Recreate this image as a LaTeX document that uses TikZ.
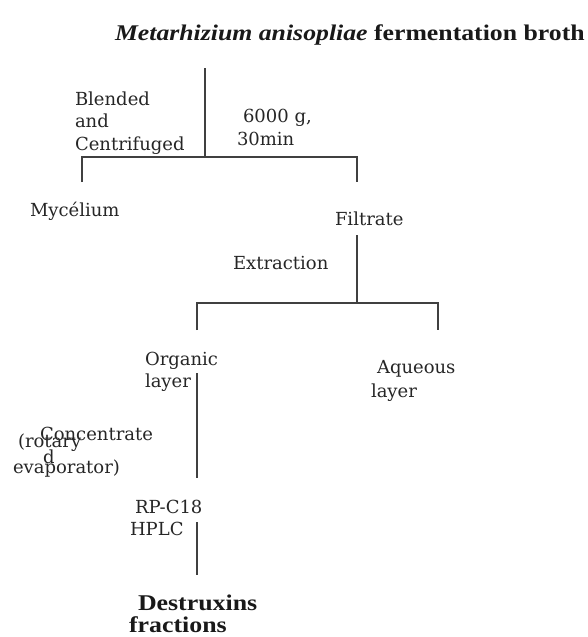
\documentclass[tikz,border=0pt]{standalone}
\usepackage{fontspec}
\setmainfont{DejaVu Serif}
\newfontfamily\tfont[FakeStretch=1.15]{Liberation Serif}
\begin{document}
\begin{tikzpicture}[x=1pt,y=-1pt,
  lbl/.style={anchor=base west,inner sep=0pt,outer sep=0pt,text=black!85,font=\fontsize{18}{22}\selectfont},
  blbl/.style={lbl,text=black!90,font=\fontsize{22.5}{26}\tfont\bfseries},
  ln/.style={draw=black!75,line width=1.3pt}]
\useasboundingbox (0,0) rectangle (588,637);
% texts
\node[blbl,font=\fontsize{22.4}{26}\tfont\bfseries] (title) at (115,40) {\textit{Metarhizium anisopliae} fermentation broth};
\node[lbl] (b1) at (75,105) {Blended};
\node[lbl] (b2) at (75,127) {and};
\node[lbl] (b3) at (75,150) {Centrifuged};
\node[lbl] (g1) at (243,122) {6000 g,};
\node[lbl] (g2) at (237,145) {30min};
\node[lbl] (myc) at (30,216) {Mycélium};
\node[lbl] (filt) at (335,225) {Filtrate};
\node[lbl] (extr) at (233,269) {Extraction};
\node[lbl] (org1) at (145,365) {Organic};
\node[lbl] (org2) at (145,387) {layer};
\node[lbl] (aq1) at (377,373) {Aqueous};
\node[lbl] (aq2) at (371,397) {layer};
\node[lbl] (conc) at (40,440) {Concentrate};
\node[lbl] (rot) at (18,447) {(rotary};
\node[lbl] (dd) at (43,463) {d};
\node[lbl] (evap) at (13,473) {evaporator)};
\node[lbl] (rp) at (135,513) {RP-C18};
\node[lbl] (hplc) at (130,535) {HPLC};
\node[blbl] (des1) at (138,610) {Destruxins};
\node[blbl] (des2) at (129,632) {fractions};
% junction coordinates
\coordinate (t0) at (205,68);
\coordinate (t1) at (205,157);
\coordinate (l1) at (82,157);
\coordinate (l1b) at (82,182);
\coordinate (r1) at (357,157);
\coordinate (r1b) at (357,182);
\coordinate (f0) at (357,235);
\coordinate (f1) at (357,303);
\coordinate (l2) at (197,303);
\coordinate (l2b) at (197,330);
\coordinate (r2) at (438,303);
\coordinate (r2b) at (438,330);
\coordinate (o0) at (197,373);
\coordinate (o1) at (197,478);
\coordinate (h0) at (197,522);
\coordinate (h1) at (197,575);
% connectors
\draw[ln] (t0) -- (t1);
\draw[ln] (l1b) -- (l1) -- (r1) -- (r1b);
\draw[ln] (f0) -- (f1);
\draw[ln] (l2b) -- (l2) -- (r2) -- (r2b);
\draw[ln] (o0) -- (o1);
\draw[ln] (h0) -- (h1);
\end{tikzpicture}
\end{document}
